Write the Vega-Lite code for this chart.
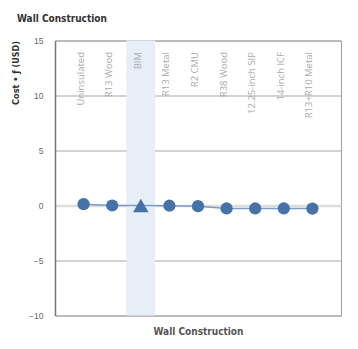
{
  "$schema": "https://vega.github.io/schema/vega-lite/v6.json",
  "width": 286,
  "height": 275,
  "autosize": "none",
  "padding": {"left": 55, "top": 40.5, "right": 17, "bottom": 33.5},
  "background": "white",
  "config": {"view": {"stroke": "#a0a0a0", "strokeWidth": 1}},
  "title": {
    "text": "Wall Construction",
    "anchor": "start",
    "frame": "group",
    "dx": -38,
    "offset": 13,
    "font": "DejaVu Sans Condensed",
    "fontWeight": "bold",
    "fontSize": 10,
    "color": "#333333"
  },
  "data": {
    "values": [
      {"construction": "Uninsulated", "cost": 0.12, "marker": "circle", "highlight": false},
      {"construction": "R13 Wood", "cost": 0.0, "marker": "circle", "highlight": false},
      {"construction": "BIM", "cost": 0.0, "marker": "triangle-up", "highlight": true},
      {"construction": "R13 Metal", "cost": -0.02, "marker": "circle", "highlight": false},
      {"construction": "R2 CMU", "cost": -0.06, "marker": "circle", "highlight": false},
      {"construction": "R38 Wood", "cost": -0.27, "marker": "circle", "highlight": false},
      {"construction": "12.25-inch SIP", "cost": -0.27, "marker": "circle", "highlight": false},
      {"construction": "14-inch ICF", "cost": -0.27, "marker": "circle", "highlight": false},
      {"construction": "R13+R10 Metal", "cost": -0.28, "marker": "circle", "highlight": false}
    ]
  },
  "encoding": {
    "x": {
      "field": "construction",
      "type": "nominal",
      "sort": null,
      "scale": {
        "type": "band",
        "paddingInner": 0,
        "paddingOuter": 0.5,
        "domain": ["Uninsulated", "R13 Wood", "BIM", "R13 Metal", "R2 CMU", "R38 Wood", "12.25-inch SIP", "14-inch ICF", "R13+R10 Metal"]
      },
      "axis": {
        "orient": "bottom",
        "title": "Wall Construction",
        "titleFont": "DejaVu Sans Condensed",
        "titleFontWeight": "bold",
        "titleFontSize": 10,
        "titleColor": "#555555",
        "titlePadding": 11,
        "labelAngle": -90,
        "labelAlign": "right",
        "labelBaseline": "alphabetic",
        "labelPadding": -264,
        "labelFont": "Open Sans",
        "labelFontSize": 9.5,
        "labelColor": "#aaaaaa",
        "labelOverlap": false,
        "ticks": false,
        "domain": false,
        "grid": false
      }
    }
  },
  "layer": [
    {
      "transform": [{"filter": "datum.highlight"}],
      "mark": {"type": "rect", "color": "#e6eef7"},
      "encoding": {
        "y": {"datum": 15},
        "y2": {"datum": -10}
      }
    },
    {
      "mark": {"type": "line", "color": "#7d9dc7", "strokeWidth": 1.5},
      "encoding": {
        "y": {
          "field": "cost",
          "type": "quantitative",
          "scale": {"domain": [-10, 15], "nice": false, "zero": false},
          "axis": {
            "title": "Cost • ƒ (USD)",
            "titleFont": "DejaVu Sans Condensed",
            "titleFontWeight": "bold",
            "titleFontSize": 9,
            "titleColor": "#333333",
            "titleAnchor": "end",
            "titlePadding": 8,
            "values": [-10, -5, 0, 5, 10, 15],
            "labelFont": "Liberation Sans",
            "labelFontSize": 8.5,
            "labelColor": "#666666",
            "labelPadding": 12,
            "ticks": false,
            "domain": true,
            "domainColor": "#777777",
            "domainWidth": 1.5,
            "grid": true,
            "gridColor": {"condition": {"test": "datum.value === 0", "value": "#dddddd"}, "value": "#a8a8a8"},
            "gridWidth": {"condition": {"test": "datum.value === 0", "value": 2.5}, "value": 1}
          }
        }
      }
    },
    {
      "mark": {"type": "point", "filled": true, "opacity": 1, "color": "#4573a8"},
      "encoding": {
        "y": {"field": "cost", "type": "quantitative"},
        "shape": {
          "field": "marker",
          "type": "nominal",
          "scale": {"domain": ["circle", "triangle-up"], "range": ["circle", "triangle-up"]},
          "legend": null
        },
        "size": {
          "field": "marker",
          "type": "nominal",
          "scale": {"domain": ["circle", "triangle-up"], "range": [150, 240]},
          "legend": null
        }
      }
    }
  ]
}
